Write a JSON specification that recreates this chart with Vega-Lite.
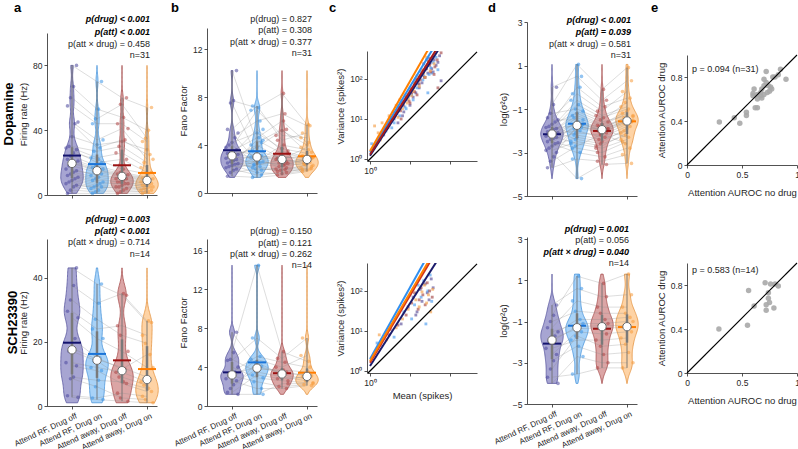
{
"$schema":"https://vega.github.io/schema/vega-lite/v6.json",
"background":"white",
"padding":{"left":2,"top":2,"right":0,"bottom":0},
"autosize":{"type":"pad"},
"config":{
 "font":"Liberation Sans",
 "view":{"stroke":null},
 "axis":{"grid":false,"domainColor":"#262626","domainWidth":0.8,"tickColor":"#262626","tickWidth":0.8,"tickSize":3,"labelColor":"#262626","labelFontSize":8.5,"labelPadding":2,"titleColor":"#262626","titleFontSize":9.5,"titleFontWeight":"normal","titlePadding":4,"labelFlush":false,"labelOverlap":false},
 "title":{"color":"#000","fontWeight":"bold"}
},
"datasets":{
 "xl":[{"k":1,"t":"Attend RF, Drug off"},{"k":2,"t":"Attend RF, Drug on"},{"k":3,"t":"Attend away, Drug off"},{"k":4,"t":"Attend away, Drug on"}],
 "vio":[
{"g":"a1","id":1,"c1":80,"c2":70,"c3":60,"c4":54},
{"g":"a1","id":2,"c1":67,"c2":53,"c3":48,"c4":40},
{"g":"a1","id":3,"c1":60,"c2":47,"c3":56,"c4":35},
{"g":"a1","id":4,"c1":55,"c2":44,"c3":44,"c4":33},
{"g":"a1","id":5,"c1":45,"c2":34,"c3":41,"c4":22},
{"g":"a1","id":6,"c1":44,"c2":29,"c3":34,"c4":25},
{"g":"a1","id":7,"c1":36,"c2":31,"c3":33,"c4":28},
{"g":"a1","id":8,"c1":30,"c2":27,"c3":30,"c4":20},
{"g":"a1","id":9,"c1":29,"c2":23,"c3":26,"c4":17},
{"g":"a1","id":10,"c1":28,"c2":20,"c3":22,"c4":14},
{"g":"a1","id":11,"c1":26,"c2":22,"c3":16,"c4":13},
{"g":"a1","id":12,"c1":24,"c2":18,"c3":14,"c4":11},
{"g":"a1","id":13,"c1":22,"c2":17,"c3":13,"c4":10.5},
{"g":"a1","id":14,"c1":21,"c2":16,"c3":12.5,"c4":10},
{"g":"a1","id":15,"c1":20,"c2":15.5,"c3":12,"c4":9.5},
{"g":"a1","id":16,"c1":19.5,"c2":15,"c3":11.5,"c4":9},
{"g":"a1","id":17,"c1":18,"c2":14,"c3":11,"c4":8.5},
{"g":"a1","id":18,"c1":16,"c2":12,"c3":10,"c4":8},
{"g":"a1","id":19,"c1":15,"c2":13,"c3":10,"c4":7},
{"g":"a1","id":20,"c1":14,"c2":11,"c3":9,"c4":7},
{"g":"a1","id":21,"c1":13,"c2":10,"c3":8,"c4":6},
{"g":"a1","id":22,"c1":12,"c2":9,"c3":8,"c4":6},
{"g":"a1","id":23,"c1":11,"c2":8,"c3":7,"c4":5},
{"g":"a1","id":24,"c1":10,"c2":7,"c3":7,"c4":5},
{"g":"a1","id":25,"c1":9,"c2":6,"c3":6,"c4":4},
{"g":"a1","id":26,"c1":8,"c2":5,"c3":5,"c4":4},
{"g":"a1","id":27,"c1":7,"c2":4,"c3":5,"c4":3},
{"g":"a1","id":28,"c1":6,"c2":5,"c3":4,"c4":3},
{"g":"a1","id":29,"c1":5,"c2":3,"c3":3,"c4":2},
{"g":"a1","id":30,"c1":3,"c2":2,"c3":2,"c4":2},
{"g":"a1","id":31,"c1":1,"c2":1,"c3":1,"c4":1},
{"g":"b1","id":1,"c1":10.2,"c2":4.2,"c3":5.3,"c4":3.4},
{"g":"b1","id":2,"c1":7.7,"c2":7.1,"c3":8.3,"c4":5.7},
{"g":"b1","id":3,"c1":7.5,"c2":3.0,"c3":3.1,"c4":2.6},
{"g":"b1","id":4,"c1":5.3,"c2":7.25,"c3":4.4,"c4":5.0},
{"g":"b1","id":5,"c1":5.0,"c2":2.6,"c3":2.45,"c4":2.3},
{"g":"b1","id":6,"c1":4.6,"c2":6.0,"c3":6.6,"c4":5.6},
{"g":"b1","id":7,"c1":4.2,"c2":5.0,"c3":3.7,"c4":3.3},
{"g":"b1","id":8,"c1":4.0,"c2":2.4,"c3":2.2,"c4":2.5},
{"g":"b1","id":9,"c1":3.8,"c2":6.9,"c3":4.8,"c4":4.6},
{"g":"b1","id":10,"c1":3.6,"c2":3.1,"c3":2.6,"c4":2.85},
{"g":"b1","id":11,"c1":3.5,"c2":4.6,"c3":6.0,"c4":4.2},
{"g":"b1","id":12,"c1":3.4,"c2":2.8,"c3":3.0,"c4":2.9},
{"g":"b1","id":13,"c1":3.3,"c2":3.5,"c3":2.9,"c4":3.1},
{"g":"b1","id":14,"c1":3.2,"c2":5.3,"c3":3.5,"c4":3.0},
{"g":"b1","id":15,"c1":3.15,"c2":2.2,"c3":1.95,"c4":2.0},
{"g":"b1","id":16,"c1":3.1,"c2":3.8,"c3":5.2,"c4":4.0},
{"g":"b1","id":17,"c1":3.0,"c2":2.9,"c3":2.5,"c4":2.7},
{"g":"b1","id":18,"c1":2.9,"c2":4.0,"c3":2.8,"c4":3.8},
{"g":"b1","id":19,"c1":2.8,"c2":1.9,"c3":2.1,"c4":2.2},
{"g":"b1","id":20,"c1":2.7,"c2":2.6,"c3":4.0,"c4":3.6},
{"g":"b1","id":21,"c1":2.6,"c2":3.2,"c3":2.7,"c4":2.65},
{"g":"b1","id":22,"c1":2.5,"c2":2.1,"c3":1.8,"c4":1.95},
{"g":"b1","id":23,"c1":2.45,"c2":4.4,"c3":3.3,"c4":2.95},
{"g":"b1","id":24,"c1":2.4,"c2":2.5,"c3":2.4,"c4":2.55},
{"g":"b1","id":25,"c1":2.3,"c2":1.7,"c3":1.6,"c4":1.9},
{"g":"b1","id":26,"c1":2.2,"c2":2.3,"c3":2.85,"c4":2.4},
{"g":"b1","id":27,"c1":2.1,"c2":3.0,"c3":2.0,"c4":2.1},
{"g":"b1","id":28,"c1":2.0,"c2":1.5,"c3":1.7,"c4":2.05},
{"g":"b1","id":29,"c1":1.9,"c2":2.7,"c3":2.3,"c4":2.8},
{"g":"b1","id":30,"c1":1.7,"c2":2.0,"c3":1.9,"c4":2.35},
{"g":"b1","id":31,"c1":1.4,"c2":1.3,"c3":1.5,"c4":1.8},
{"g":"d1","id":1,"c1":0.0,"c2":0.5,"c3":-0.6,"c4":0.3},
{"g":"d1","id":2,"c1":-0.8,"c2":1.05,"c3":-0.1,"c4":0.9},
{"g":"d1","id":3,"c1":-1.2,"c2":-1.0,"c3":-1.5,"c4":-0.7},
{"g":"d1","id":4,"c1":-1.4,"c2":-0.3,"c3":-1.1,"c4":-0.2},
{"g":"d1","id":5,"c1":-1.5,"c2":-1.5,"c3":-1.9,"c4":-1.35},
{"g":"d1","id":6,"c1":-1.6,"c2":0.0,"c3":-0.9,"c4":-0.5},
{"g":"d1","id":7,"c1":-1.7,"c2":-1.2,"c3":-1.7,"c4":-1.1},
{"g":"d1","id":8,"c1":-1.8,"c2":-2.2,"c3":-2.4,"c4":-2.0},
{"g":"d1","id":9,"c1":-1.85,"c2":-0.6,"c3":-1.3,"c4":-0.9},
{"g":"d1","id":10,"c1":-1.9,"c2":-1.75,"c3":-2.1,"c4":-1.55},
{"g":"d1","id":11,"c1":-1.95,"c2":-0.8,"c3":-1.4,"c4":-1.0},
{"g":"d1","id":12,"c1":-2.0,"c2":-2.4,"c3":-2.6,"c4":-2.2},
{"g":"d1","id":13,"c1":-2.05,"c2":-1.3,"c3":-1.75,"c4":-1.2},
{"g":"d1","id":14,"c1":-2.1,"c2":-1.1,"c3":-1.6,"c4":-1.3},
{"g":"d1","id":15,"c1":-2.12,"c2":-2.0,"c3":-2.3,"c4":-1.8},
{"g":"d1","id":16,"c1":-2.15,"c2":-1.65,"c3":-1.85,"c4":-1.45},
{"g":"d1","id":17,"c1":-2.2,"c2":-1.4,"c3":-1.8,"c4":-1.4},
{"g":"d1","id":18,"c1":-2.25,"c2":-2.6,"c3":-2.8,"c4":-2.4},
{"g":"d1","id":19,"c1":-2.3,"c2":-1.85,"c3":-1.95,"c4":-1.6},
{"g":"d1","id":20,"c1":-2.35,"c2":-1.6,"c3":-2.0,"c4":-1.5},
{"g":"d1","id":21,"c1":-2.4,"c2":-2.1,"c3":-2.2,"c4":-1.7},
{"g":"d1","id":22,"c1":-2.5,"c2":-2.8,"c3":-3.0,"c4":-2.5},
{"g":"d1","id":23,"c1":-2.55,"c2":-1.7,"c3":-1.92,"c4":-1.52},
{"g":"d1","id":24,"c1":-2.6,"c2":-3.0,"c3":-3.2,"c4":-2.8},
{"g":"d1","id":25,"c1":-2.7,"c2":-2.3,"c3":-2.5,"c4":-1.9},
{"g":"d1","id":26,"c1":-2.8,"c2":-1.9,"c3":-2.05,"c4":-1.65},
{"g":"d1","id":27,"c1":-2.9,"c2":-2.5,"c3":-2.7,"c4":-2.1},
{"g":"d1","id":28,"c1":-3.0,"c2":-4.2,"c3":-3.55,"c4":-3.5},
{"g":"d1","id":29,"c1":-3.2,"c2":-1.8,"c3":-1.95,"c4":-2.3},
{"g":"d1","id":30,"c1":-3.4,"c2":-2.7,"c3":-2.15,"c4":-2.6},
{"g":"d1","id":31,"c1":-3.7,"c2":-3.3,"c3":-3.4,"c4":-3.1},
{"g":"a2","id":1,"c1":43,"c2":38,"c3":34.5,"c4":26},
{"g":"a2","id":2,"c1":37.5,"c2":32,"c3":35,"c4":26.5},
{"g":"a2","id":3,"c1":33,"c2":27,"c3":22,"c4":19.5},
{"g":"a2","id":4,"c1":29.5,"c2":24,"c3":25,"c4":22},
{"g":"a2","id":5,"c1":27.5,"c2":21,"c3":17,"c4":12},
{"g":"a2","id":6,"c1":21,"c2":15,"c3":11.5,"c4":16},
{"g":"a2","id":7,"c1":18,"c2":14.5,"c3":12,"c4":9},
{"g":"a2","id":8,"c1":17,"c2":14,"c3":9,"c4":6.5},
{"g":"a2","id":9,"c1":13.5,"c2":12,"c3":10.5,"c4":7.5},
{"g":"a2","id":10,"c1":12.5,"c2":11,"c3":7,"c4":4.5},
{"g":"a2","id":11,"c1":9,"c2":8,"c3":7.5,"c4":5.5},
{"g":"a2","id":12,"c1":8.5,"c2":6,"c3":2.5,"c4":2},
{"g":"a2","id":13,"c1":3.2,"c2":2.5,"c3":4,"c4":3},
{"g":"a2","id":14,"c1":2.7,"c2":2,"c3":1.5,"c4":1},
{"g":"b2","id":1,"c1":7.6,"c2":4.1,"c3":3.5,"c4":3.1},
{"g":"b2","id":2,"c1":5.5,"c2":14.5,"c3":5.6,"c4":4.6},
{"g":"b2","id":3,"c1":4.8,"c2":3.5,"c3":3.0,"c4":2.6},
{"g":"b2","id":4,"c1":4.7,"c2":7.0,"c3":4.9,"c4":7.0},
{"g":"b2","id":5,"c1":4.0,"c2":2.9,"c3":2.6,"c4":2.4},
{"g":"b2","id":6,"c1":3.5,"c2":5.1,"c3":4.5,"c4":4.0},
{"g":"b2","id":7,"c1":3.3,"c2":4.0,"c3":3.4,"c4":3.2},
{"g":"b2","id":8,"c1":3.1,"c2":2.5,"c3":2.0,"c4":2.2},
{"g":"b2","id":9,"c1":2.8,"c2":4.8,"c3":4.0,"c4":5.2},
{"g":"b2","id":10,"c1":2.6,"c2":1.8,"c3":1.8,"c4":2.1},
{"g":"b2","id":11,"c1":2.2,"c2":3.8,"c3":3.7,"c4":3.5},
{"g":"b2","id":12,"c1":1.8,"c2":4.5,"c3":3.2,"c4":2.8},
{"g":"b2","id":13,"c1":1.4,"c2":3.2,"c3":2.8,"c4":3.0},
{"g":"b2","id":14,"c1":1.2,"c2":1.2,"c3":2.3,"c4":2.3},
{"g":"d2","id":1,"c1":-0.2,"c2":0.6,"c3":0.2,"c4":0.3},
{"g":"d2","id":2,"c1":-0.7,"c2":1.2,"c3":0.85,"c4":1.3},
{"g":"d2","id":3,"c1":-1.0,"c2":-0.5,"c3":-0.6,"c4":-0.6},
{"g":"d2","id":4,"c1":-1.3,"c2":0.0,"c3":-0.3,"c4":-0.3},
{"g":"d2","id":5,"c1":-1.5,"c2":-1.1,"c3":-1.1,"c4":-1.0},
{"g":"d2","id":6,"c1":-1.7,"c2":-0.9,"c3":-0.9,"c4":-0.8},
{"g":"d2","id":7,"c1":-1.85,"c2":-1.35,"c3":-1.3,"c4":-1.3},
{"g":"d2","id":8,"c1":-1.95,"c2":-1.25,"c3":-1.2,"c4":-1.2},
{"g":"d2","id":9,"c1":-2.3,"c2":-1.9,"c3":-1.9,"c4":-1.8},
{"g":"d2","id":10,"c1":-2.6,"c2":-1.5,"c3":-1.6,"c4":-1.5},
{"g":"d2","id":11,"c1":-2.9,"c2":-2.2,"c3":-2.6,"c4":-2.5},
{"g":"d2","id":12,"c1":-3.3,"c2":-1.7,"c3":-2.2,"c4":-2.1},
{"g":"d2","id":13,"c1":-3.7,"c2":-3.55,"c3":-3.25,"c4":-3.25},
{"g":"d2","id":14,"c1":-4.0,"c2":-2.7,"c3":-3.0,"c4":-3.0}
 ],
 "txt":[
{"g":"a1","x":4.12,"y":108.6,"t":"p(drug) < 0.001","b":true},
{"g":"a1","x":4.12,"y":100.6,"t":"p(att) < 0.001","b":true},
{"g":"a1","x":4.12,"y":93.2,"t":"p(att × drug) = 0.458","b":false},
{"g":"a1","x":4.12,"y":86.4,"t":"n=31","b":false},
{"g":"b1","x":4.2,"y":14.5,"t":"p(drug) = 0.827","b":false},
{"g":"b1","x":4.2,"y":13.58,"t":"p(att) = 0.308","b":false},
{"g":"b1","x":4.2,"y":12.58,"t":"p(att × drug) = 0.377","b":false},
{"g":"b1","x":4.2,"y":11.67,"t":"n=31","b":false},
{"g":"d1","x":4.16,"y":3.1,"t":"p(drug) < 0.001","b":true},
{"g":"d1","x":4.16,"y":2.54,"t":"p(att) = 0.039","b":true},
{"g":"d1","x":4.16,"y":2.0,"t":"p(att × drug) = 0.581","b":false},
{"g":"d1","x":4.16,"y":1.5,"t":"n=31","b":false},
{"g":"a2","x":4.12,"y":58.3,"t":"p(drug) = 0.003","b":true},
{"g":"a2","x":4.12,"y":54.4,"t":"p(att) < 0.001","b":true},
{"g":"a2","x":4.12,"y":51.0,"t":"p(att × drug) = 0.714","b":false},
{"g":"a2","x":4.12,"y":47.4,"t":"n=14","b":false},
{"g":"b2","x":4.2,"y":18.0,"t":"p(drug) = 0.150","b":false},
{"g":"b2","x":4.2,"y":16.8,"t":"p(att) = 0.121","b":false},
{"g":"b2","x":4.2,"y":15.7,"t":"p(att × drug) = 0.262","b":false},
{"g":"b2","x":4.2,"y":14.55,"t":"n=14","b":false},
{"g":"d2","x":4.08,"y":3.48,"t":"p(drug) = 0.001","b":true},
{"g":"d2","x":4.08,"y":2.95,"t":"p(att) = 0.056","b":false},
{"g":"d2","x":4.08,"y":2.39,"t":"p(att × drug) = 0.040","b":true},
{"g":"d2","x":4.08,"y":1.86,"t":"n=14","b":false},
{"g":"e1","x":0.045,"y":0.87,"t":"p = 0.094 (n=31)","b":false},
{"g":"e2","x":0.045,"y":0.94,"t":"p = 0.583 (n=14)","b":false}
 ],
 "cpts":[
{"g":"c1","c":"c1","m":2.2,"s":4},{"g":"c1","c":"c1","m":3,"s":7},{"g":"c1","c":"c1","m":3.5,"s":9},{"g":"c1","c":"c1","m":4.2,"s":12},{"g":"c1","c":"c1","m":5,"s":8},{"g":"c1","c":"c1","m":5.5,"s":18},{"g":"c1","c":"c1","m":6,"s":25},{"g":"c1","c":"c1","m":7,"s":15},{"g":"c1","c":"c1","m":8,"s":30},{"g":"c1","c":"c1","m":9,"s":40},{"g":"c1","c":"c1","m":10,"s":22},{"g":"c1","c":"c1","m":11,"s":55},{"g":"c1","c":"c1","m":13,"s":70},{"g":"c1","c":"c1","m":14,"s":45},{"g":"c1","c":"c1","m":16,"s":90},{"g":"c1","c":"c1","m":18,"s":120},{"g":"c1","c":"c1","m":20,"s":80},{"g":"c1","c":"c1","m":22,"s":160},{"g":"c1","c":"c1","m":25,"s":200},{"g":"c1","c":"c1","m":28,"s":140},{"g":"c1","c":"c1","m":32,"s":250},{"g":"c1","c":"c1","m":35,"s":180},{"g":"c1","c":"c1","m":40,"s":300},{"g":"c1","c":"c1","m":45,"s":220},{"g":"c1","c":"c1","m":55,"s":380},{"g":"c1","c":"c1","m":60,"s":90},
{"g":"c1","c":"c1","m":4,"s":10},{"g":"c1","c":"c1","m":6.5,"s":12},{"g":"c1","c":"c1","m":12,"s":35},{"g":"c1","c":"c1","m":17,"s":60},{"g":"c1","c":"c1","m":24,"s":110},{"g":"c1","c":"c1","m":30,"s":330},{"g":"c1","c":"c1","m":38,"s":150},{"g":"c1","c":"c1","m":50,"s":260},
{"g":"c1","c":"c2","m":1.1,"s":2.4},{"g":"c1","c":"c2","m":2.5,"s":5},{"g":"c1","c":"c2","m":3.2,"s":11},{"g":"c1","c":"c2","m":4,"s":8},{"g":"c1","c":"c2","m":4.8,"s":16},{"g":"c1","c":"c2","m":5.5,"s":12},{"g":"c1","c":"c2","m":6.5,"s":28},{"g":"c1","c":"c2","m":7.5,"s":20},{"g":"c1","c":"c2","m":9,"s":35},{"g":"c1","c":"c2","m":10,"s":50},{"g":"c1","c":"c2","m":12,"s":30},{"g":"c1","c":"c2","m":13,"s":85},{"g":"c1","c":"c2","m":15,"s":60},{"g":"c1","c":"c2","m":17,"s":110},{"g":"c1","c":"c2","m":19,"s":150},{"g":"c1","c":"c2","m":21,"s":95},{"g":"c1","c":"c2","m":24,"s":170},{"g":"c1","c":"c2","m":27,"s":230},{"g":"c1","c":"c2","m":30,"s":130},{"g":"c1","c":"c2","m":33,"s":190},{"g":"c1","c":"c2","m":38,"s":260},{"g":"c1","c":"c2","m":50,"s":170},{"g":"c1","c":"c2","m":28,"s":45},
{"g":"c1","c":"c2","m":3.5,"s":6},{"g":"c1","c":"c2","m":8,"s":18},{"g":"c1","c":"c2","m":11,"s":40},{"g":"c1","c":"c2","m":16,"s":75},{"g":"c1","c":"c2","m":22,"s":120},{"g":"c1","c":"c2","m":26,"s":300},{"g":"c1","c":"c2","m":35,"s":140},{"g":"c1","c":"c2","m":45,"s":350},
{"g":"c1","c":"c3","m":2,"s":4.5},{"g":"c1","c":"c3","m":2.8,"s":6},{"g":"c1","c":"c3","m":3.6,"s":10},{"g":"c1","c":"c3","m":4.5,"s":14},{"g":"c1","c":"c3","m":5.2,"s":20},{"g":"c1","c":"c3","m":6,"s":10},{"g":"c1","c":"c3","m":6.8,"s":22},{"g":"c1","c":"c3","m":8,"s":35},{"g":"c1","c":"c3","m":9.5,"s":28},{"g":"c1","c":"c3","m":11,"s":45},{"g":"c1","c":"c3","m":12,"s":60},{"g":"c1","c":"c3","m":14,"s":100},{"g":"c1","c":"c3","m":15,"s":40},{"g":"c1","c":"c3","m":17,"s":75},{"g":"c1","c":"c3","m":20,"s":130},{"g":"c1","c":"c3","m":23,"s":110},{"g":"c1","c":"c3","m":26,"s":180},{"g":"c1","c":"c3","m":29,"s":270},{"g":"c1","c":"c3","m":33,"s":150},{"g":"c1","c":"c3","m":37,"s":350},{"g":"c1","c":"c3","m":42,"s":200},{"g":"c1","c":"c3","m":48,"s":300},{"g":"c1","c":"c3","m":60,"s":450},{"g":"c1","c":"c3","m":50,"s":60},
{"g":"c1","c":"c3","m":3,"s":8},{"g":"c1","c":"c3","m":5.8,"s":16},{"g":"c1","c":"c3","m":10,"s":25},{"g":"c1","c":"c3","m":13,"s":48},{"g":"c1","c":"c3","m":18,"s":95},{"g":"c1","c":"c3","m":22,"s":240},{"g":"c1","c":"c3","m":31,"s":220},{"g":"c1","c":"c3","m":40,"s":130},
{"g":"c1","c":"c4","m":1.3,"s":6.7},{"g":"c1","c":"c4","m":1.6,"s":4.5},{"g":"c1","c":"c4","m":2,"s":8},{"g":"c1","c":"c4","m":2.4,"s":6},{"g":"c1","c":"c4","m":3,"s":12},{"g":"c1","c":"c4","m":3.8,"s":15},{"g":"c1","c":"c4","m":4.5,"s":22},{"g":"c1","c":"c4","m":5.5,"s":30},{"g":"c1","c":"c4","m":6.5,"s":18},{"g":"c1","c":"c4","m":7.5,"s":40},{"g":"c1","c":"c4","m":8.5,"s":25},{"g":"c1","c":"c4","m":10,"s":60},{"g":"c1","c":"c4","m":11,"s":38},{"g":"c1","c":"c4","m":13,"s":80},{"g":"c1","c":"c4","m":15,"s":120},{"g":"c1","c":"c4","m":17,"s":65},{"g":"c1","c":"c4","m":20,"s":170},{"g":"c1","c":"c4","m":24,"s":110},{"g":"c1","c":"c4","m":28,"s":220},{"g":"c1","c":"c4","m":32,"s":160},{"g":"c1","c":"c4","m":40,"s":240},
{"g":"c1","c":"c4","m":1.8,"s":3},{"g":"c1","c":"c4","m":3.4,"s":9},{"g":"c1","c":"c4","m":5,"s":11},{"g":"c1","c":"c4","m":9,"s":32},{"g":"c1","c":"c4","m":12,"s":50},{"g":"c1","c":"c4","m":16,"s":95},{"g":"c1","c":"c4","m":22,"s":140},{"g":"c1","c":"c4","m":26,"s":350},
{"g":"c2","c":"c1","m":1.8,"s":4.5},{"g":"c2","c":"c1","m":3,"s":8},{"g":"c2","c":"c1","m":6,"s":15},{"g":"c2","c":"c1","m":9,"s":40},{"g":"c2","c":"c1","m":12,"s":70},{"g":"c2","c":"c1","m":15,"s":30},{"g":"c2","c":"c1","m":18,"s":110},{"g":"c2","c":"c1","m":20,"s":55},{"g":"c2","c":"c1","m":24,"s":150},{"g":"c2","c":"c1","m":27,"s":90},{"g":"c2","c":"c1","m":30,"s":60},{"g":"c2","c":"c1","m":34,"s":200},{"g":"c2","c":"c1","m":38,"s":120},{"g":"c2","c":"c1","m":14,"s":25},
{"g":"c2","c":"c2","m":1.5,"s":5},{"g":"c2","c":"c2","m":2.5,"s":9},{"g":"c2","c":"c2","m":4,"s":7},{"g":"c2","c":"c2","m":7,"s":30},{"g":"c2","c":"c2","m":10,"s":80},{"g":"c2","c":"c2","m":13,"s":45},{"g":"c2","c":"c2","m":16,"s":140},{"g":"c2","c":"c2","m":19,"s":70},{"g":"c2","c":"c2","m":22,"s":180},{"g":"c2","c":"c2","m":25,"s":15},{"g":"c2","c":"c2","m":28,"s":100},{"g":"c2","c":"c2","m":32,"s":250},{"g":"c2","c":"c2","m":35,"s":55},{"g":"c2","c":"c2","m":11,"s":20},
{"g":"c2","c":"c3","m":2,"s":6},{"g":"c2","c":"c3","m":3.2,"s":11},{"g":"c2","c":"c3","m":5,"s":14},{"g":"c2","c":"c3","m":8,"s":25},{"g":"c2","c":"c3","m":11,"s":50},{"g":"c2","c":"c3","m":13,"s":90},{"g":"c2","c":"c3","m":16,"s":35},{"g":"c2","c":"c3","m":19,"s":120},{"g":"c2","c":"c3","m":21,"s":80},{"g":"c2","c":"c3","m":24,"s":45},{"g":"c2","c":"c3","m":27,"s":160},{"g":"c2","c":"c3","m":31,"s":100},{"g":"c2","c":"c3","m":36,"s":70},{"g":"c2","c":"c3","m":17,"s":60},
{"g":"c2","c":"c4","m":1.7,"s":8},{"g":"c2","c":"c4","m":2.6,"s":6},{"g":"c2","c":"c4","m":4.5,"s":12},{"g":"c2","c":"c4","m":6.5,"s":20},{"g":"c2","c":"c4","m":9,"s":35},{"g":"c2","c":"c4","m":12,"s":110},{"g":"c2","c":"c4","m":14,"s":60},{"g":"c2","c":"c4","m":17,"s":40},{"g":"c2","c":"c4","m":20,"s":95},{"g":"c2","c":"c4","m":23,"s":140},{"g":"c2","c":"c4","m":26,"s":50},{"g":"c2","c":"c4","m":29,"s":80},{"g":"c2","c":"c4","m":33,"s":30},{"g":"c2","c":"c4","m":37,"s":110}
 ],
 "cfit":[
{"g":"c1","c":"c1","m":1,"s":1.2},{"g":"c1","c":"c1","m":57,"s":630},
{"g":"c1","c":"c2","m":1,"s":1.45},{"g":"c1","c":"c2","m":40,"s":630},
{"g":"c1","c":"c3","m":1,"s":1.3},{"g":"c1","c":"c3","m":50,"s":630},
{"g":"c1","c":"c4","m":1,"s":1.58},{"g":"c1","c":"c4","m":31,"s":630},
{"g":"c2","c":"c1","m":1,"s":1.33},{"g":"c2","c":"c1","m":51,"s":630},
{"g":"c2","c":"c2","m":1,"s":2.0},{"g":"c2","c":"c2","m":25,"s":630},
{"g":"c2","c":"c3","m":1,"s":1.6},{"g":"c2","c":"c3","m":35,"s":630},
{"g":"c2","c":"c4","m":1,"s":1.78},{"g":"c2","c":"c4","m":31.6,"s":630}
 ],
 "roc":[
{"g":"e1","x":0.294,"y":0.39},{"g":"e1","x":0.43,"y":0.43},{"g":"e1","x":0.48,"y":0.38},{"g":"e1","x":0.54,"y":0.45},{"g":"e1","x":0.54,"y":0.48},{"g":"e1","x":0.62,"y":0.52},{"g":"e1","x":0.64,"y":0.52},{"g":"e1","x":0.60,"y":0.63},{"g":"e1","x":0.61,"y":0.69},{"g":"e1","x":0.60,"y":0.65},{"g":"e1","x":0.64,"y":0.64},{"g":"e1","x":0.67,"y":0.63},{"g":"e1","x":0.67,"y":0.66},{"g":"e1","x":0.68,"y":0.69},{"g":"e1","x":0.70,"y":0.64},{"g":"e1","x":0.70,"y":0.72},{"g":"e1","x":0.72,"y":0.75},{"g":"e1","x":0.70,"y":0.78},{"g":"e1","x":0.72,"y":0.85},{"g":"e1","x":0.74,"y":0.72},{"g":"e1","x":0.76,"y":0.71},{"g":"e1","x":0.75,"y":0.67},{"g":"e1","x":0.77,"y":0.69},{"g":"e1","x":0.78,"y":0.80},{"g":"e1","x":0.80,"y":0.80},{"g":"e1","x":0.83,"y":0.82},{"g":"e1","x":0.85,"y":0.87},{"g":"e1","x":0.90,"y":0.78},{"g":"e1","x":0.64,"y":0.60},{"g":"e1","x":0.68,"y":0.61},{"g":"e1","x":0.73,"y":0.66},
{"g":"e2","x":0.29,"y":0.40},{"g":"e2","x":0.55,"y":0.435},{"g":"e2","x":0.56,"y":0.75},{"g":"e2","x":0.61,"y":0.61},{"g":"e2","x":0.71,"y":0.82},{"g":"e2","x":0.76,"y":0.81},{"g":"e2","x":0.80,"y":0.81},{"g":"e2","x":0.83,"y":0.79},{"g":"e2","x":0.74,"y":0.73},{"g":"e2","x":0.74,"y":0.68},{"g":"e2","x":0.75,"y":0.64},{"g":"e2","x":0.72,"y":0.62},{"g":"e2","x":0.72,"y":0.57},{"g":"e2","x":0.79,"y":0.59}
 ]
},
"align":"all",
"spacing":8,
"hconcat":[
{
 "spacing":0,
 "vconcat":[
  {"width":10,"height":1,"title":{"text":"a","anchor":"start","frame":"group","dx":-33,"offset":-17,"fontSize":13,"fontWeight":"bold","baseline":"alphabetic","color":"#000"},"data":{"values":[{}]},"mark":{"type":"rect","opacity":0},"encoding":{}},
  {"width":110,"height":162,
   "title":{"text":"Dopamine","orient":"left","anchor":"middle","frame":"group","fontSize":13,"fontWeight":"bold","offset":3,"color":"#000"},
   "data":{"name":"vio"},
   "transform":[{"filter":"datum.g == 'a1'"},{"fold":["c1","c2","c3","c4"],"as":["c","v"]},{"calculate":"toNumber(substring(datum.c,1))","as":"xp"},{"calculate":"datum.xp + ((datum.id * 7) % 9 - 4) * 0.06","as":"jx"}],
   "layer":[
    {"transform":[{"density":"v","groupby":["c","xp"],"bandwidth":4,"steps":100,"as":["v","dens"]},{"joinaggregate":[{"op":"max","field":"dens","as":"md"}],"groupby":["c"]},{"calculate":"datum.xp - 0.45*datum.dens/datum.md","as":"lo"},{"calculate":"datum.xp + 0.45*datum.dens/datum.md","as":"hi"}],
     "mark":{"type":"area","orient":"horizontal","fillOpacity":0.5,"strokeWidth":0.8},
     "encoding":{
      "y":{"field":"v","type":"quantitative","scale":{"domain":[0,100],"nice":false,"zero":false},"axis":{"title":"Firing rate (Hz)","values":[0,20,40,60,80,100]}},
      "x":{"field":"lo","type":"quantitative","scale":{"domain":[0,4.4],"nice":false,"zero":false},"axis":{"title":null,"values":[1,2,3,4],"labels":false}},
      "x2":{"field":"hi"},
      "fill":{"field":"c","type":"nominal","scale":{"domain":["c1","c2","c3","c4"],"range":["#4f4ba5","#51a5ef","#b74b4b","#fda74b"]},"legend":null},
      "stroke":{"field":"c","type":"nominal","scale":{"domain":["c1","c2","c3","c4"],"range":["#5a58a0","#4d97dc","#a85050","#e59443"]},"legend":null}}},
    {"mark":{"type":"line","color":"#8c8c8c","strokeWidth":0.6,"opacity":0.5},"encoding":{"x":{"field":"xp","type":"quantitative"},"y":{"field":"v","type":"quantitative"},"detail":{"field":"id","type":"nominal"}}},
    {"mark":{"type":"circle","size":13,"opacity":0.55},"encoding":{"x":{"field":"jx","type":"quantitative"},"y":{"field":"v","type":"quantitative"},"color":{"field":"c","type":"nominal","scale":{"domain":["c1","c2","c3","c4"],"range":["#4a479c","#3b93e6","#b04545","#f59a3c"]},"legend":null}}},
    {"mark":{"type":"rule","color":"#707070","strokeWidth":0.9},"encoding":{"x":{"field":"xp","type":"quantitative"},"y":{"aggregate":"min","field":"v","type":"quantitative"},"y2":{"aggregate":"max","field":"v"}}},
    {"mark":{"type":"rule","color":"#7a7a7a","strokeWidth":2.5},"encoding":{"x":{"field":"xp","type":"quantitative"},"y":{"aggregate":"q1","field":"v","type":"quantitative"},"y2":{"aggregate":"q3","field":"v"}}},
    {"mark":{"type":"tick","orient":"horizontal","thickness":2,"size":18},"encoding":{"x":{"field":"xp","type":"quantitative"},"y":{"aggregate":"mean","field":"v","type":"quantitative"},"color":{"field":"c","type":"nominal","scale":{"domain":["c1","c2","c3","c4"],"range":["#14146e","#1a74d8","#9c1313","#ff7d00"]},"legend":null}}},
    {"mark":{"type":"point","filled":true,"fill":"white","stroke":"#6b6b6b","strokeWidth":1,"size":70,"opacity":1},"encoding":{"x":{"field":"xp","type":"quantitative"},"y":{"aggregate":"median","field":"v","type":"quantitative"}}},
    {"data":{"name":"txt"},"transform":[{"filter":"datum.g == 'a1' && datum.b"}],"mark":{"type":"text","align":"right","baseline":"middle","fontSize":9,"fontWeight":"bold","fontStyle":"italic","color":"#000"},"encoding":{"x":{"field":"x","type":"quantitative"},"y":{"field":"y","type":"quantitative"},"text":{"field":"t"}}},
    {"data":{"name":"txt"},"transform":[{"filter":"datum.g == 'a1' && !datum.b"}],"mark":{"type":"text","align":"right","baseline":"middle","fontSize":9,"color":"#222"},"encoding":{"x":{"field":"x","type":"quantitative"},"y":{"field":"y","type":"quantitative"},"text":{"field":"t"}}}
   ],
   "resolve":{"scale":{"color":"independent"}}
  },
  {"width":10,"height":14,"data":{"values":[{}]},"mark":{"type":"rect","opacity":0},"encoding":{}},
  {"width":110,"height":167,
   "title":{"text":"SCH23390","orient":"left","anchor":"middle","frame":"group","fontSize":13,"fontWeight":"bold","offset":-7,"color":"#000"},
   "data":{"name":"vio"},
   "transform":[{"filter":"datum.g == 'a2'"},{"fold":["c1","c2","c3","c4"],"as":["c","v"]},{"calculate":"toNumber(substring(datum.c,1))","as":"xp"},{"calculate":"datum.xp + ((datum.id * 7) % 9 - 4) * 0.06","as":"jx"}],
   "layer":[
    {"transform":[{"density":"v","groupby":["c","xp"],"bandwidth":3,"steps":100,"as":["v","dens"]},{"joinaggregate":[{"op":"max","field":"dens","as":"md"}],"groupby":["c"]},{"calculate":"datum.xp - 0.45*datum.dens/datum.md","as":"lo"},{"calculate":"datum.xp + 0.45*datum.dens/datum.md","as":"hi"}],
     "mark":{"type":"area","orient":"horizontal","fillOpacity":0.5,"strokeWidth":0.8},
     "encoding":{
      "y":{"field":"v","type":"quantitative","scale":{"domain":[0,52],"nice":false,"zero":false},"axis":{"title":"Firing rate (Hz)","values":[0,10,20,30,40,50]}},
      "x":{"field":"lo","type":"quantitative","scale":{"domain":[0,4.4],"nice":false,"zero":false},"axis":{"title":null,"values":[1,2,3,4],"labels":false}},
      "x2":{"field":"hi"},
      "fill":{"field":"c","type":"nominal","scale":{"domain":["c1","c2","c3","c4"],"range":["#4f4ba5","#51a5ef","#b74b4b","#fda74b"]},"legend":null},
      "stroke":{"field":"c","type":"nominal","scale":{"domain":["c1","c2","c3","c4"],"range":["#5a58a0","#4d97dc","#a85050","#e59443"]},"legend":null}}},
    {"mark":{"type":"line","color":"#8c8c8c","strokeWidth":0.6,"opacity":0.5},"encoding":{"x":{"field":"xp","type":"quantitative"},"y":{"field":"v","type":"quantitative"},"detail":{"field":"id","type":"nominal"}}},
    {"mark":{"type":"circle","size":13,"opacity":0.55},"encoding":{"x":{"field":"jx","type":"quantitative"},"y":{"field":"v","type":"quantitative"},"color":{"field":"c","type":"nominal","scale":{"domain":["c1","c2","c3","c4"],"range":["#4a479c","#3b93e6","#b04545","#f59a3c"]},"legend":null}}},
    {"mark":{"type":"rule","color":"#707070","strokeWidth":0.9},"encoding":{"x":{"field":"xp","type":"quantitative"},"y":{"aggregate":"min","field":"v","type":"quantitative"},"y2":{"aggregate":"max","field":"v"}}},
    {"mark":{"type":"rule","color":"#7a7a7a","strokeWidth":2.5},"encoding":{"x":{"field":"xp","type":"quantitative"},"y":{"aggregate":"q1","field":"v","type":"quantitative"},"y2":{"aggregate":"q3","field":"v"}}},
    {"mark":{"type":"tick","orient":"horizontal","thickness":2,"size":18},"encoding":{"x":{"field":"xp","type":"quantitative"},"y":{"aggregate":"mean","field":"v","type":"quantitative"},"color":{"field":"c","type":"nominal","scale":{"domain":["c1","c2","c3","c4"],"range":["#14146e","#1a74d8","#9c1313","#ff7d00"]},"legend":null}}},
    {"mark":{"type":"point","filled":true,"fill":"white","stroke":"#6b6b6b","strokeWidth":1,"size":70,"opacity":1},"encoding":{"x":{"field":"xp","type":"quantitative"},"y":{"aggregate":"median","field":"v","type":"quantitative"}}},
    {"data":{"name":"xl"},"mark":{"type":"text","angle":-25,"align":"right","baseline":"top","fontSize":8,"color":"#262626","dy":7},"encoding":{"x":{"field":"k","type":"quantitative"},"y":{"datum":0,"type":"quantitative"},"text":{"field":"t"}}},
    {"data":{"name":"txt"},"transform":[{"filter":"datum.g == 'a2' && datum.b"}],"mark":{"type":"text","align":"right","baseline":"middle","fontSize":9,"fontWeight":"bold","fontStyle":"italic","color":"#000"},"encoding":{"x":{"field":"x","type":"quantitative"},"y":{"field":"y","type":"quantitative"},"text":{"field":"t"}}},
    {"data":{"name":"txt"},"transform":[{"filter":"datum.g == 'a2' && !datum.b"}],"mark":{"type":"text","align":"right","baseline":"middle","fontSize":9,"color":"#222"},"encoding":{"x":{"field":"x","type":"quantitative"},"y":{"field":"y","type":"quantitative"},"text":{"field":"t"}}}
   ],
   "resolve":{"scale":{"color":"independent"}}
  }
 ]
},
{
 "spacing":0,
 "vconcat":[
  {"width":10,"height":1,"title":{"text":"b","anchor":"start","frame":"group","dx":-36,"offset":-17,"fontSize":13,"fontWeight":"bold","baseline":"alphabetic","color":"#000"},"data":{"values":[{}]},"mark":{"type":"rect","opacity":0},"encoding":{}},
  {"width":110,"height":165,
   "data":{"name":"vio"},
   "transform":[{"filter":"datum.g == 'b1'"},{"fold":["c1","c2","c3","c4"],"as":["c","v"]},{"calculate":"toNumber(substring(datum.c,1))","as":"xp"},{"calculate":"datum.xp + ((datum.id * 7) % 9 - 4) * 0.06","as":"jx"}],
   "layer":[
    {"transform":[{"density":"v","groupby":["c","xp"],"bandwidth":0.45,"steps":100,"as":["v","dens"]},{"joinaggregate":[{"op":"max","field":"dens","as":"md"}],"groupby":["c"]},{"calculate":"datum.xp - 0.45*datum.dens/datum.md","as":"lo"},{"calculate":"datum.xp + 0.45*datum.dens/datum.md","as":"hi"}],
     "mark":{"type":"area","orient":"horizontal","fillOpacity":0.5,"strokeWidth":0.8},
     "encoding":{
      "y":{"field":"v","type":"quantitative","scale":{"domain":[0,13.75],"nice":false,"zero":false},"axis":{"title":"Fano Factor","values":[0,2,4,6,8,10,12]}},
      "x":{"field":"lo","type":"quantitative","scale":{"domain":[0,4.4],"nice":false,"zero":false},"axis":{"title":null,"values":[1,2,3,4],"labels":false}},
      "x2":{"field":"hi"},
      "fill":{"field":"c","type":"nominal","scale":{"domain":["c1","c2","c3","c4"],"range":["#4f4ba5","#51a5ef","#b74b4b","#fda74b"]},"legend":null},
      "stroke":{"field":"c","type":"nominal","scale":{"domain":["c1","c2","c3","c4"],"range":["#5a58a0","#4d97dc","#a85050","#e59443"]},"legend":null}}},
    {"mark":{"type":"line","color":"#8c8c8c","strokeWidth":0.6,"opacity":0.5},"encoding":{"x":{"field":"xp","type":"quantitative"},"y":{"field":"v","type":"quantitative"},"detail":{"field":"id","type":"nominal"}}},
    {"mark":{"type":"circle","size":13,"opacity":0.55},"encoding":{"x":{"field":"jx","type":"quantitative"},"y":{"field":"v","type":"quantitative"},"color":{"field":"c","type":"nominal","scale":{"domain":["c1","c2","c3","c4"],"range":["#4a479c","#3b93e6","#b04545","#f59a3c"]},"legend":null}}},
    {"mark":{"type":"rule","color":"#707070","strokeWidth":0.9},"encoding":{"x":{"field":"xp","type":"quantitative"},"y":{"aggregate":"min","field":"v","type":"quantitative"},"y2":{"aggregate":"max","field":"v"}}},
    {"mark":{"type":"rule","color":"#7a7a7a","strokeWidth":2.5},"encoding":{"x":{"field":"xp","type":"quantitative"},"y":{"aggregate":"q1","field":"v","type":"quantitative"},"y2":{"aggregate":"q3","field":"v"}}},
    {"mark":{"type":"tick","orient":"horizontal","thickness":2,"size":18},"encoding":{"x":{"field":"xp","type":"quantitative"},"y":{"aggregate":"mean","field":"v","type":"quantitative"},"color":{"field":"c","type":"nominal","scale":{"domain":["c1","c2","c3","c4"],"range":["#14146e","#1a74d8","#9c1313","#ff7d00"]},"legend":null}}},
    {"mark":{"type":"point","filled":true,"fill":"white","stroke":"#6b6b6b","strokeWidth":1,"size":70,"opacity":1},"encoding":{"x":{"field":"xp","type":"quantitative"},"y":{"aggregate":"median","field":"v","type":"quantitative"}}},
    {"data":{"name":"txt"},"transform":[{"filter":"datum.g == 'b1' && !datum.b"}],"mark":{"type":"text","align":"right","baseline":"middle","fontSize":9,"color":"#222"},"encoding":{"x":{"field":"x","type":"quantitative"},"y":{"field":"y","type":"quantitative"},"text":{"field":"t"}}}
   ],
   "resolve":{"scale":{"color":"independent"}}
  },
  {"width":10,"height":29,"data":{"values":[{}]},"mark":{"type":"rect","opacity":0},"encoding":{}},
  {"width":110,"height":167,
   "data":{"name":"vio"},
   "transform":[{"filter":"datum.g == 'b2'"},{"fold":["c1","c2","c3","c4"],"as":["c","v"]},{"calculate":"toNumber(substring(datum.c,1))","as":"xp"},{"calculate":"datum.xp + ((datum.id * 7) % 9 - 4) * 0.06","as":"jx"}],
   "layer":[
    {"transform":[{"density":"v","groupby":["c","xp"],"bandwidth":0.5,"steps":100,"as":["v","dens"]},{"joinaggregate":[{"op":"max","field":"dens","as":"md"}],"groupby":["c"]},{"calculate":"datum.xp - 0.45*datum.dens/datum.md","as":"lo"},{"calculate":"datum.xp + 0.45*datum.dens/datum.md","as":"hi"}],
     "mark":{"type":"area","orient":"horizontal","fillOpacity":0.5,"strokeWidth":0.8},
     "encoding":{
      "y":{"field":"v","type":"quantitative","scale":{"domain":[0,17.2],"nice":false,"zero":false},"axis":{"title":"Fano Factor","values":[0,2,4,6,8,10,12,14,16]}},
      "x":{"field":"lo","type":"quantitative","scale":{"domain":[0,4.4],"nice":false,"zero":false},"axis":{"title":null,"values":[1,2,3,4],"labels":false}},
      "x2":{"field":"hi"},
      "fill":{"field":"c","type":"nominal","scale":{"domain":["c1","c2","c3","c4"],"range":["#4f4ba5","#51a5ef","#b74b4b","#fda74b"]},"legend":null},
      "stroke":{"field":"c","type":"nominal","scale":{"domain":["c1","c2","c3","c4"],"range":["#5a58a0","#4d97dc","#a85050","#e59443"]},"legend":null}}},
    {"mark":{"type":"line","color":"#8c8c8c","strokeWidth":0.6,"opacity":0.5},"encoding":{"x":{"field":"xp","type":"quantitative"},"y":{"field":"v","type":"quantitative"},"detail":{"field":"id","type":"nominal"}}},
    {"mark":{"type":"circle","size":13,"opacity":0.55},"encoding":{"x":{"field":"jx","type":"quantitative"},"y":{"field":"v","type":"quantitative"},"color":{"field":"c","type":"nominal","scale":{"domain":["c1","c2","c3","c4"],"range":["#4a479c","#3b93e6","#b04545","#f59a3c"]},"legend":null}}},
    {"mark":{"type":"rule","color":"#707070","strokeWidth":0.9},"encoding":{"x":{"field":"xp","type":"quantitative"},"y":{"aggregate":"min","field":"v","type":"quantitative"},"y2":{"aggregate":"max","field":"v"}}},
    {"mark":{"type":"rule","color":"#7a7a7a","strokeWidth":2.5},"encoding":{"x":{"field":"xp","type":"quantitative"},"y":{"aggregate":"q1","field":"v","type":"quantitative"},"y2":{"aggregate":"q3","field":"v"}}},
    {"mark":{"type":"tick","orient":"horizontal","thickness":2,"size":18},"encoding":{"x":{"field":"xp","type":"quantitative"},"y":{"aggregate":"mean","field":"v","type":"quantitative"},"color":{"field":"c","type":"nominal","scale":{"domain":["c1","c2","c3","c4"],"range":["#14146e","#1a74d8","#9c1313","#ff7d00"]},"legend":null}}},
    {"mark":{"type":"point","filled":true,"fill":"white","stroke":"#6b6b6b","strokeWidth":1,"size":70,"opacity":1},"encoding":{"x":{"field":"xp","type":"quantitative"},"y":{"aggregate":"median","field":"v","type":"quantitative"}}},
    {"data":{"name":"xl"},"mark":{"type":"text","angle":-25,"align":"right","baseline":"top","fontSize":8,"color":"#262626","dy":7},"encoding":{"x":{"field":"k","type":"quantitative"},"y":{"datum":0,"type":"quantitative"},"text":{"field":"t"}}},
    {"data":{"name":"txt"},"transform":[{"filter":"datum.g == 'b2' && !datum.b"}],"mark":{"type":"text","align":"right","baseline":"middle","fontSize":9,"color":"#222"},"encoding":{"x":{"field":"x","type":"quantitative"},"y":{"field":"y","type":"quantitative"},"text":{"field":"t"}}}
   ],
   "resolve":{"scale":{"color":"independent"}}
  }
 ]
},
{
 "spacing":0,
 "vconcat":[
  {"width":10,"height":43,"title":{"text":"c","anchor":"start","frame":"group","dx":-38,"offset":-17,"fontSize":13,"fontWeight":"bold","baseline":"alphabetic","color":"#000"},"data":{"values":[{}]},"mark":{"type":"rect","opacity":0},"encoding":{}},
  {"width":110,"height":110,
   "layer":[
    {"data":{"name":"cpts"},"transform":[{"filter":"datum.g == 'c1'"}],"mark":{"type":"square","size":8,"opacity":0.65},
     "encoding":{
      "x":{"field":"m","type":"quantitative","scale":{"type":"log","domain":[0.84,475],"nice":false},"axis":{"title":null,"values":[1,10,100],"labelExpr":"datum.value == 1 ? '10⁰' : ''"}},
      "y":{"field":"s","type":"quantitative","scale":{"type":"log","domain":[0.89,500],"nice":false},"axis":{"title":"Variance (spikes²)","values":[1,10,100],"labelExpr":"datum.value == 1 ? '10⁰' : datum.value == 10 ? '10¹' : '10²'"}},
      "color":{"field":"c","type":"nominal","scale":{"domain":["c1","c2","c3","c4"],"range":["#5a4e9a","#4b9df0","#a54848","#f5a04a"]},"legend":null}}},
    {"data":{"name":"cfit"},"transform":[{"filter":"datum.g == 'c1'"}],"mark":{"type":"line","strokeWidth":2,"clip":true},
     "encoding":{"x":{"field":"m","type":"quantitative"},"y":{"field":"s","type":"quantitative"},"color":{"field":"c","type":"nominal","scale":{"domain":["c1","c2","c3","c4"],"range":["#1b1b6b","#2f8ff0","#a51c1c","#ff7f00"]},"legend":null}}},
    {"data":{"values":[{"a":0.89,"b":475}]},"mark":{"type":"rule","color":"#000","strokeWidth":1.2},"encoding":{"x":{"field":"a","type":"quantitative"},"y":{"field":"a","type":"quantitative"},"x2":{"field":"b"},"y2":{"field":"b"}}}
   ],
   "resolve":{"scale":{"color":"independent"}}
  },
  {"width":10,"height":88,"data":{"values":[{}]},"mark":{"type":"rect","opacity":0},"encoding":{}},
  {"width":110,"height":110,
   "layer":[
    {"data":{"name":"cpts"},"transform":[{"filter":"datum.g == 'c2'"}],"mark":{"type":"square","size":8,"opacity":0.65},
     "encoding":{
      "x":{"field":"m","type":"quantitative","scale":{"type":"log","domain":[0.84,475],"nice":false},"axis":{"title":"Mean (spikes)","values":[1,10,100],"labelExpr":"datum.value == 1 ? '10⁰' : ''"}},
      "y":{"field":"s","type":"quantitative","scale":{"type":"log","domain":[0.89,500],"nice":false},"axis":{"title":"Variance (spikes²)","values":[1,10,100],"labelExpr":"datum.value == 1 ? '10⁰' : datum.value == 10 ? '10¹' : '10²'"}},
      "color":{"field":"c","type":"nominal","scale":{"domain":["c1","c2","c3","c4"],"range":["#5a4e9a","#4b9df0","#a54848","#f5a04a"]},"legend":null}}},
    {"data":{"name":"cfit"},"transform":[{"filter":"datum.g == 'c2'"}],"mark":{"type":"line","strokeWidth":2,"clip":true},
     "encoding":{"x":{"field":"m","type":"quantitative"},"y":{"field":"s","type":"quantitative"},"color":{"field":"c","type":"nominal","scale":{"domain":["c1","c2","c3","c4"],"range":["#1b1b6b","#2f8ff0","#d2321e","#ff7f00"]},"legend":null}}},
    {"data":{"values":[{"a":0.89,"b":475}]},"mark":{"type":"rule","color":"#000","strokeWidth":1.2},"encoding":{"x":{"field":"a","type":"quantitative"},"y":{"field":"a","type":"quantitative"},"x2":{"field":"b"},"y2":{"field":"b"}}}
   ],
   "resolve":{"scale":{"color":"independent"}}
  }
 ]
},
{
 "spacing":0,
 "vconcat":[
  {"width":10,"height":1,"title":{"text":"d","anchor":"start","frame":"group","dx":-39,"offset":-17,"fontSize":13,"fontWeight":"bold","baseline":"alphabetic","color":"#000"},"data":{"values":[{}]},"mark":{"type":"rect","opacity":0},"encoding":{}},
  {"width":110,"height":174,
   "data":{"name":"vio"},
   "transform":[{"filter":"datum.g == 'd1'"},{"fold":["c1","c2","c3","c4"],"as":["c","v"]},{"calculate":"toNumber(substring(datum.c,1))","as":"xp"},{"calculate":"datum.xp + ((datum.id * 7) % 9 - 4) * 0.06","as":"jx"}],
   "layer":[
    {"transform":[{"density":"v","groupby":["c","xp"],"bandwidth":0.3,"steps":100,"as":["v","dens"]},{"joinaggregate":[{"op":"max","field":"dens","as":"md"}],"groupby":["c"]},{"calculate":"datum.xp - 0.45*datum.dens/datum.md","as":"lo"},{"calculate":"datum.xp + 0.45*datum.dens/datum.md","as":"hi"}],
     "mark":{"type":"area","orient":"horizontal","fillOpacity":0.5,"strokeWidth":0.8},
     "encoding":{
      "y":{"field":"v","type":"quantitative","scale":{"domain":[-5,3],"nice":false,"zero":false},"axis":{"title":"log(σ²ɢ)","values":[-5,-4,-3,-2,-1,0,1,2,3]}},
      "x":{"field":"lo","type":"quantitative","scale":{"domain":[0,4.4],"nice":false,"zero":false},"axis":{"title":null,"values":[1,2,3,4],"labels":false}},
      "x2":{"field":"hi"},
      "fill":{"field":"c","type":"nominal","scale":{"domain":["c1","c2","c3","c4"],"range":["#4f4ba5","#51a5ef","#b74b4b","#fda74b"]},"legend":null},
      "stroke":{"field":"c","type":"nominal","scale":{"domain":["c1","c2","c3","c4"],"range":["#5a58a0","#4d97dc","#a85050","#e59443"]},"legend":null}}},
    {"mark":{"type":"line","color":"#8c8c8c","strokeWidth":0.6,"opacity":0.5},"encoding":{"x":{"field":"xp","type":"quantitative"},"y":{"field":"v","type":"quantitative"},"detail":{"field":"id","type":"nominal"}}},
    {"mark":{"type":"circle","size":13,"opacity":0.55},"encoding":{"x":{"field":"jx","type":"quantitative"},"y":{"field":"v","type":"quantitative"},"color":{"field":"c","type":"nominal","scale":{"domain":["c1","c2","c3","c4"],"range":["#4a479c","#3b93e6","#b04545","#f59a3c"]},"legend":null}}},
    {"mark":{"type":"rule","color":"#707070","strokeWidth":0.9},"encoding":{"x":{"field":"xp","type":"quantitative"},"y":{"aggregate":"min","field":"v","type":"quantitative"},"y2":{"aggregate":"max","field":"v"}}},
    {"mark":{"type":"rule","color":"#7a7a7a","strokeWidth":2.5},"encoding":{"x":{"field":"xp","type":"quantitative"},"y":{"aggregate":"q1","field":"v","type":"quantitative"},"y2":{"aggregate":"q3","field":"v"}}},
    {"mark":{"type":"tick","orient":"horizontal","thickness":2,"size":18},"encoding":{"x":{"field":"xp","type":"quantitative"},"y":{"aggregate":"mean","field":"v","type":"quantitative"},"color":{"field":"c","type":"nominal","scale":{"domain":["c1","c2","c3","c4"],"range":["#14146e","#1a74d8","#9c1313","#ff7d00"]},"legend":null}}},
    {"mark":{"type":"point","filled":true,"fill":"white","stroke":"#6b6b6b","strokeWidth":1,"size":70,"opacity":1},"encoding":{"x":{"field":"xp","type":"quantitative"},"y":{"aggregate":"median","field":"v","type":"quantitative"}}},
    {"data":{"name":"txt"},"transform":[{"filter":"datum.g == 'd1' && datum.b"}],"mark":{"type":"text","align":"right","baseline":"middle","fontSize":9,"fontWeight":"bold","fontStyle":"italic","color":"#000"},"encoding":{"x":{"field":"x","type":"quantitative"},"y":{"field":"y","type":"quantitative"},"text":{"field":"t"}}},
    {"data":{"name":"txt"},"transform":[{"filter":"datum.g == 'd1' && !datum.b"}],"mark":{"type":"text","align":"right","baseline":"middle","fontSize":9,"color":"#222"},"encoding":{"x":{"field":"x","type":"quantitative"},"y":{"field":"y","type":"quantitative"},"text":{"field":"t"}}}
   ],
   "resolve":{"scale":{"color":"independent"}}
  },
  {"width":10,"height":24,"data":{"values":[{}]},"mark":{"type":"rect","opacity":0},"encoding":{}},
  {"width":110,"height":167,
   "data":{"name":"vio"},
   "transform":[{"filter":"datum.g == 'd2'"},{"fold":["c1","c2","c3","c4"],"as":["c","v"]},{"calculate":"toNumber(substring(datum.c,1))","as":"xp"},{"calculate":"datum.xp + ((datum.id * 7) % 9 - 4) * 0.06","as":"jx"}],
   "layer":[
    {"transform":[{"density":"v","groupby":["c","xp"],"bandwidth":0.35,"steps":100,"as":["v","dens"]},{"joinaggregate":[{"op":"max","field":"dens","as":"md"}],"groupby":["c"]},{"calculate":"datum.xp - 0.45*datum.dens/datum.md","as":"lo"},{"calculate":"datum.xp + 0.45*datum.dens/datum.md","as":"hi"}],
     "mark":{"type":"area","orient":"horizontal","fillOpacity":0.5,"strokeWidth":0.8},
     "encoding":{
      "y":{"field":"v","type":"quantitative","scale":{"domain":[-5,3.1],"nice":false,"zero":false},"axis":{"title":"log(σ²ɢ)","values":[-5,-4,-3,-2,-1,0,1,2,3]}},
      "x":{"field":"lo","type":"quantitative","scale":{"domain":[0,4.4],"nice":false,"zero":false},"axis":{"title":null,"values":[1,2,3,4],"labels":false}},
      "x2":{"field":"hi"},
      "fill":{"field":"c","type":"nominal","scale":{"domain":["c1","c2","c3","c4"],"range":["#4f4ba5","#51a5ef","#b74b4b","#fda74b"]},"legend":null},
      "stroke":{"field":"c","type":"nominal","scale":{"domain":["c1","c2","c3","c4"],"range":["#5a58a0","#4d97dc","#a85050","#e59443"]},"legend":null}}},
    {"mark":{"type":"line","color":"#8c8c8c","strokeWidth":0.6,"opacity":0.5},"encoding":{"x":{"field":"xp","type":"quantitative"},"y":{"field":"v","type":"quantitative"},"detail":{"field":"id","type":"nominal"}}},
    {"mark":{"type":"circle","size":13,"opacity":0.55},"encoding":{"x":{"field":"jx","type":"quantitative"},"y":{"field":"v","type":"quantitative"},"color":{"field":"c","type":"nominal","scale":{"domain":["c1","c2","c3","c4"],"range":["#4a479c","#3b93e6","#b04545","#f59a3c"]},"legend":null}}},
    {"mark":{"type":"rule","color":"#707070","strokeWidth":0.9},"encoding":{"x":{"field":"xp","type":"quantitative"},"y":{"aggregate":"min","field":"v","type":"quantitative"},"y2":{"aggregate":"max","field":"v"}}},
    {"mark":{"type":"rule","color":"#7a7a7a","strokeWidth":2.5},"encoding":{"x":{"field":"xp","type":"quantitative"},"y":{"aggregate":"q1","field":"v","type":"quantitative"},"y2":{"aggregate":"q3","field":"v"}}},
    {"mark":{"type":"tick","orient":"horizontal","thickness":2,"size":18},"encoding":{"x":{"field":"xp","type":"quantitative"},"y":{"aggregate":"mean","field":"v","type":"quantitative"},"color":{"field":"c","type":"nominal","scale":{"domain":["c1","c2","c3","c4"],"range":["#14146e","#1a74d8","#9c1313","#ff7d00"]},"legend":null}}},
    {"mark":{"type":"point","filled":true,"fill":"white","stroke":"#6b6b6b","strokeWidth":1,"size":70,"opacity":1},"encoding":{"x":{"field":"xp","type":"quantitative"},"y":{"aggregate":"median","field":"v","type":"quantitative"}}},
    {"data":{"name":"xl"},"mark":{"type":"text","angle":-25,"align":"right","baseline":"top","fontSize":8,"color":"#262626","dy":7},"encoding":{"x":{"field":"k","type":"quantitative"},"y":{"datum":-5,"type":"quantitative"},"text":{"field":"t"}}},
    {"data":{"name":"txt"},"transform":[{"filter":"datum.g == 'd2' && datum.b"}],"mark":{"type":"text","align":"right","baseline":"middle","fontSize":9,"fontWeight":"bold","fontStyle":"italic","color":"#000"},"encoding":{"x":{"field":"x","type":"quantitative"},"y":{"field":"y","type":"quantitative"},"text":{"field":"t"}}},
    {"data":{"name":"txt"},"transform":[{"filter":"datum.g == 'd2' && !datum.b"}],"mark":{"type":"text","align":"right","baseline":"middle","fontSize":9,"color":"#222"},"encoding":{"x":{"field":"x","type":"quantitative"},"y":{"field":"y","type":"quantitative"},"text":{"field":"t"}}}
   ],
   "resolve":{"scale":{"color":"independent"}}
  }
 ]
},
{
 "spacing":0,
 "vconcat":[
  {"width":10,"height":46,"title":{"text":"e","anchor":"start","frame":"group","dx":-36,"offset":-17,"fontSize":13,"fontWeight":"bold","baseline":"alphabetic","color":"#000"},"data":{"values":[{}]},"mark":{"type":"rect","opacity":0},"encoding":{}},
  {"width":110,"height":110,
   "layer":[
    {"data":{"name":"roc"},"transform":[{"filter":"datum.g == 'e1'"}],"mark":{"type":"circle","size":30,"color":"#a8a8a8","opacity":0.9},
     "encoding":{"x":{"field":"x","type":"quantitative","scale":{"domain":[0,1],"nice":false},"axis":{"title":"Attention AUROC no drug","values":[0,0.5,1],"format":"~g","titlePadding":9}},"y":{"field":"y","type":"quantitative","scale":{"domain":[0,1],"nice":false},"axis":{"title":"Attention AUROC drug","values":[0,0.2,0.4,0.6,0.8,1],"format":"~g"}}}},
    {"data":{"values":[{"a":0,"b":1}]},"mark":{"type":"rule","color":"#000","strokeWidth":1.1},"encoding":{"x":{"field":"a","type":"quantitative"},"y":{"field":"a","type":"quantitative"},"x2":{"field":"b"},"y2":{"field":"b"}}},
    {"data":{"name":"txt"},"transform":[{"filter":"datum.g == 'e1'"}],"mark":{"type":"text","align":"left","baseline":"middle","fontSize":9,"color":"#222"},"encoding":{"x":{"field":"x","type":"quantitative"},"y":{"field":"y","type":"quantitative"},"text":{"field":"t"}}}
   ]
  },
  {"width":10,"height":65,"data":{"values":[{}]},"mark":{"type":"rect","opacity":0},"encoding":{}},
  {"width":110,"height":110,
   "layer":[
    {"data":{"name":"roc"},"transform":[{"filter":"datum.g == 'e2'"}],"mark":{"type":"circle","size":30,"color":"#a8a8a8","opacity":0.9},
     "encoding":{"x":{"field":"x","type":"quantitative","scale":{"domain":[0,1],"nice":false},"axis":{"title":"Attention AUROC no drug","values":[0,0.5,1],"format":"~g","titlePadding":9}},"y":{"field":"y","type":"quantitative","scale":{"domain":[0,1],"nice":false},"axis":{"title":"Attention AUROC drug","values":[0,0.2,0.4,0.6,0.8,1],"format":"~g"}}}},
    {"data":{"values":[{"a":0,"b":1}]},"mark":{"type":"rule","color":"#000","strokeWidth":1.1},"encoding":{"x":{"field":"a","type":"quantitative"},"y":{"field":"a","type":"quantitative"},"x2":{"field":"b"},"y2":{"field":"b"}}},
    {"data":{"name":"txt"},"transform":[{"filter":"datum.g == 'e2'"}],"mark":{"type":"text","align":"left","baseline":"middle","fontSize":9,"color":"#222"},"encoding":{"x":{"field":"x","type":"quantitative"},"y":{"field":"y","type":"quantitative"},"text":{"field":"t"}}}
   ]
  }
 ]
}
]
}
